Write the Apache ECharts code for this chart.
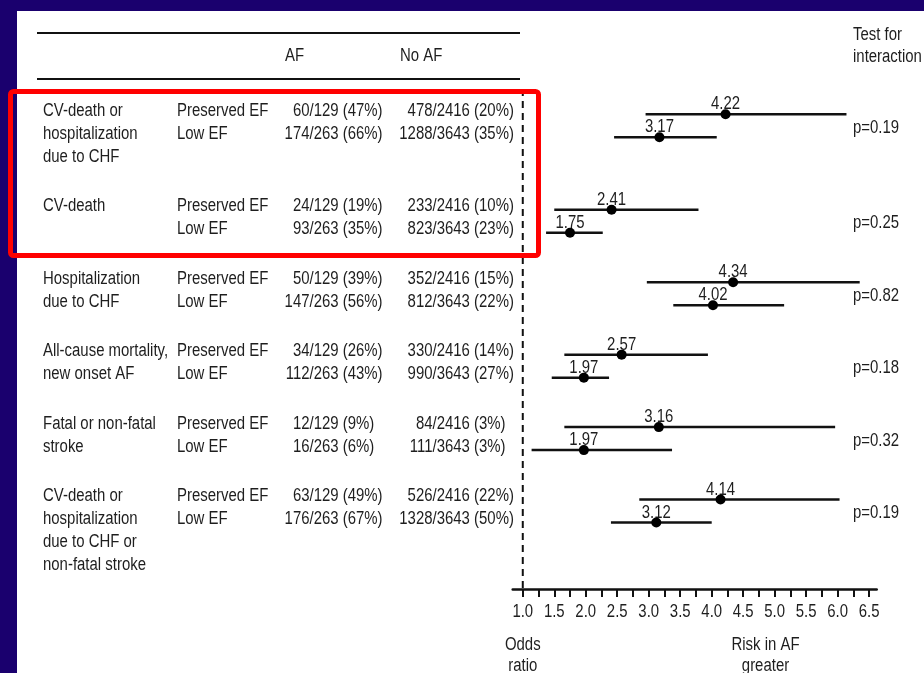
<!DOCTYPE html>
<html>
<head>
<meta charset="utf-8">
<script src="https://cdn.jsdelivr.net/npm/echarts@6/dist/echarts.min.js"></script>
<style>
  html, body { margin: 0; padding: 0; background: #1a006e; }
  #chart { width: 924px; height: 673px; }
</style>
</head>
<body>
<div id="chart"></div>
<script>
// Outcomes (one entry per line of the row label)
const outcomeLabels = [
  ['CV-death or', 'hospitalization', 'due to CHF'],
  ['CV-death'],
  ['Hospitalization', 'due to CHF'],
  ['All-cause mortality,', 'new onset AF'],
  ['Fatal or non-fatal', 'stroke'],
  ['CV-death or', 'hospitalization', 'due to CHF or', 'non-fatal stroke']
];
const subgroups = ['Preserved EF', 'Low EF'];

// Event counts: AF patients
const afTotals = [129, 263];
const afEventsPreserved = [60, 24, 50, 34, 12, 63];
const afPctPreserved = [47, 19, 39, 26, 9, 49];
const afEventsLow = [174, 93, 147, 112, 16, 176];
const afPctLow = [66, 35, 56, 43, 6, 67];

// Event counts: patients without AF
const noAfTotals = [2416, 3643];
const noAfEventsPreserved = [478, 233, 352, 330, 84, 526];
const noAfPctPreserved = [20, 10, 15, 14, 3, 22];
const noAfEventsLow = [1288, 823, 812, 990, 111, 1328];
const noAfPctLow = [35, 23, 22, 27, 3, 50];

// Odds ratios with 95% confidence limits
const orPreserved = [4.22, 2.41, 4.34, 2.57, 3.16, 4.14];
const loPreserved = [2.95, 1.50, 2.97, 1.66, 1.66, 2.85];
const hiPreserved = [6.14, 3.79, 6.35, 3.94, 5.96, 6.03];
const orLow = [3.17, 1.75, 4.02, 1.97, 1.97, 3.12];
const loLow = [2.45, 1.37, 3.39, 1.46, 1.14, 2.40];
const hiLow = [4.08, 2.27, 5.15, 2.37, 3.37, 4.00];

// Test for interaction
const pInteraction = ['0.19', '0.25', '0.82', '0.18', '0.32', '0.19'];

// Odds-ratio axis
const axisTicks = [];
for (let i = 0; i <= 22; i++) axisTicks.push(1 + i * 0.25);
const axisTickLabels = [1.0, 1.5, 2.0, 2.5, 3.0, 3.5, 4.0, 4.5, 5.0, 5.5, 6.0, 6.5];

// ---- layout ----
// condensed sans look: regular sans squeezed horizontally
const FONT_FAMILY = "'Liberation Sans', Arial, Helvetica, sans-serif";
const FONT_SIZE = 18;
const NARROW = 0.83;
const TEXT = '#1e1e1e';
const INK = '#111111';
const GRID_TOP = 89, GRID_BOTTOM_Y = 589, LINE_H = 23;
const Y_MAX = (GRID_BOTTOM_Y - GRID_TOP) / LINE_H;

// vertical start (in text-line units) of each outcome block
const blockStart = [];
{
  let s = 0.95;
  outcomeLabels.forEach(lines => {
    blockStart.push(s);
    s += Math.max(lines.length, 2) - 1 + 2.15;
  });
}
const MARK_SHIFT = 0.15;

const forestData = [];
outcomeLabels.forEach((_, g) => {
  forestData.push([loPreserved[g], hiPreserved[g], orPreserved[g], blockStart[g] + MARK_SHIFT]);
  forestData.push([loLow[g], hiLow[g], orLow[g], blockStart[g] + 1 + MARK_SHIFT]);
});

const chart = echarts.init(document.getElementById('chart'), null, { renderer: 'canvas' });

const option = {
  animation: false,
  backgroundColor: '#1a006e',
  textStyle: { fontFamily: FONT_FAMILY },
  grid: {
    left: 512.7, right: 924 - 876.7, top: GRID_TOP, bottom: 673 - GRID_BOTTOM_Y,
    containLabel: false, outerBoundsMode: 'none'
  },
  xAxis: {
    type: 'value', min: 0.84, max: 6.62, position: 'bottom',
    splitLine: { show: false },
    axisLine: { show: true, onZero: false, lineStyle: { color: INK, width: 2.5 } },
    axisTick: { show: true, customValues: axisTicks, length: 8, lineStyle: { color: INK, width: 2 } },
    axisLabel: { show: false }
  },
  yAxis: { type: 'value', inverse: true, min: 0, max: Y_MAX, show: false },
  series: [
    {
      // reference line at OR = 1
      type: 'line', data: [[1, 0], [1, Y_MAX]], symbol: 'none', silent: true,
      lineStyle: { color: INK, width: 2, type: [7, 5] }, z: 1
    },
    {
      type: 'custom',
      data: forestData,
      encode: { x: [0, 1, 2], y: 3 },
      renderItem: function (params, api) {
        const y = api.value(3);
        const a = api.coord([api.value(0), y]);
        const b = api.coord([api.value(1), y]);
        const c = api.coord([api.value(2), y]);
        return {
          type: 'group',
          children: [
            { type: 'line', shape: { x1: a[0], y1: a[1], x2: b[0], y2: b[1] },
              style: { stroke: INK, lineWidth: 2.5 } },
            { type: 'text', x: c[0], y: c[1] - 10, scaleX: NARROW,
              style: { text: api.value(2).toFixed(2), align: 'center', verticalAlign: 'middle',
                       fontSize: FONT_SIZE, fontFamily: FONT_FAMILY, fill: TEXT } },
            { type: 'circle', shape: { cx: c[0], cy: c[1], r: 5 }, style: { fill: '#000' } }
          ]
        };
      },
      z: 3
    }
  ]
};
chart.setOption(option);

// ---- table, headers and annotations ----
const yPx = v => chart.convertToPixel({ yAxisIndex: 0 }, v);
const xPx = v => chart.convertToPixel({ xAxisIndex: 0 }, v);
const txt = (text, x, y, align) => ({
  type: 'text', x: x, y: y, scaleX: NARROW, silent: true,
  style: { text: text, align: align || 'left', verticalAlign: 'middle',
           fontSize: FONT_SIZE, fontFamily: FONT_FAMILY, fill: TEXT }
});

const COL_OUTCOME = 43, COL_GROUP = 177, COL_AF_SLASH = 309.5, COL_NOAF_SLASH = 432.5, COL_P = 853;
const RULE_LEFT = 37, RULE_RIGHT = 520;

const elements = [
  { type: 'rect', shape: { x: 17, y: 11, width: 924 - 17, height: 673 - 11 },
    style: { fill: '#ffffff' }, z: -10, silent: true },
  { type: 'line', shape: { x1: RULE_LEFT, y1: 33, x2: RULE_RIGHT, y2: 33 },
    style: { stroke: INK, lineWidth: 2 }, silent: true },
  { type: 'line', shape: { x1: RULE_LEFT, y1: 79, x2: RULE_RIGHT, y2: 79 },
    style: { stroke: INK, lineWidth: 2 }, silent: true },
  txt('AF', 285, 56),
  txt('No AF', 400, 56),
  txt('Test for', COL_P, 35),
  txt('interaction', COL_P, 57),
  txt('Odds', xPx(1), 645, 'center'),
  txt('ratio', xPx(1), 666, 'center'),
  txt('Risk in AF', 765.5, 645, 'center'),
  txt('greater', 765.5, 666, 'center')
];

// axis tick labels
axisTickLabels.forEach(v => elements.push(txt(v.toFixed(1), xPx(v), GRID_BOTTOM_Y + 23, 'center')));

const countText = (events, slashX, total, pct, y) => [
  txt(String(events), slashX, y, 'right'),
  txt('/' + total + ' (' + pct + '%)', slashX, y, 'left')
];

outcomeLabels.forEach((lines, g) => {
  const s = blockStart[g];
  lines.forEach((line, k) => elements.push(txt(line, COL_OUTCOME, yPx(s + k))));
  subgroups.forEach((name, k) => elements.push(txt(name, COL_GROUP, yPx(s + k))));
  const y0 = yPx(s), y1 = yPx(s + 1);
  elements.push(...countText(afEventsPreserved[g], COL_AF_SLASH, afTotals[0], afPctPreserved[g], y0));
  elements.push(...countText(afEventsLow[g], COL_AF_SLASH, afTotals[1], afPctLow[g], y1));
  elements.push(...countText(noAfEventsPreserved[g], COL_NOAF_SLASH, noAfTotals[0], noAfPctPreserved[g], y0));
  elements.push(...countText(noAfEventsLow[g], COL_NOAF_SLASH, noAfTotals[1], noAfPctLow[g], y1));
  elements.push(txt('p=' + pInteraction[g], COL_P, yPx(s + 0.5 + MARK_SHIFT) + 2));
});

// highlight frame around the first two outcomes
elements.push({
  type: 'rect', shape: { x: 10.5, y: 91.5, width: 528, height: 164, r: 3 },
  style: { fill: 'none', stroke: '#ff0000', lineWidth: 5 }, z: 100, silent: true
});

chart.setOption({ graphic: { elements: elements } });
</script>
</body>
</html>
